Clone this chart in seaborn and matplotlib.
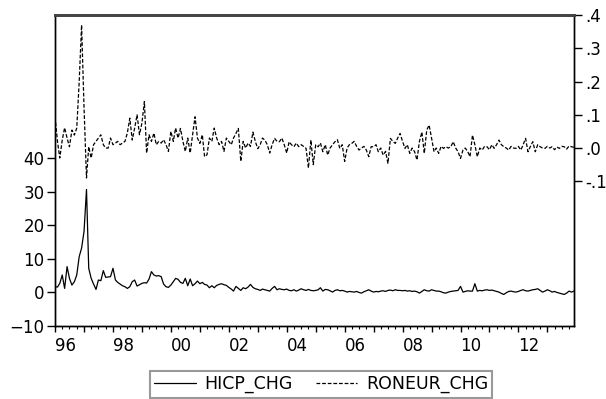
import numpy as np
import pandas as pd
import matplotlib
matplotlib.use("Agg")
import matplotlib.pyplot as plt
import matplotlib.dates as mdates
from matplotlib.ticker import FuncFormatter
import seaborn as sns

# monthly series 1996m01 - 2013m12
dates = pd.date_range("1996-01-01", "2013-12-01", freq="MS")

hicp_chg = [
    1.7, 1.6, 2.7, 5.2, 1.2, 7.7, 4.2, 2.2, 3.2, 5.2, 10.7, 13.2,
    18.2, 30.7, 7.2, 4.2, 2.5, 0.9, 3.7, 3.5, 6.5, 4.5, 4.6, 4.7,
    7.2, 3.7, 3.0, 2.5, 2.0, 1.7, 1.2, 1.7, 3.2, 3.7, 1.9, 2.3,
    2.7, 2.9, 2.8, 4.0, 6.2, 5.2, 4.9, 5.0, 4.7, 2.5, 1.7, 1.5,
    2.2, 3.2, 4.2, 3.9, 3.0, 2.7, 4.2, 2.0, 4.0, 2.0, 2.6, 3.4,
    2.6, 3.0, 2.4, 2.2, 1.4, 2.0, 1.4, 2.1, 2.4, 2.6, 2.3, 2.1,
    1.5, 1.0, 0.4, 1.8, 1.2, 0.6, 1.4, 1.1, 1.6, 2.4, 1.5, 1.1,
    0.9, 0.6, 1.0, 0.8, 0.6, 0.4, 1.2, 1.8, 0.8, 1.1, 0.9, 0.8,
    1.0, 0.6, 0.5, 0.8, 0.4, 0.7, 1.1, 0.8, 0.6, 0.9, 0.6, 0.5,
    0.6, 0.8, 1.4, 0.4, 0.9, 0.8, 0.5, 0.1, 0.6, 0.8, 0.5, 0.6,
    0.4, 0.1, 0.3, 0.2, 0.1, 0.3, 0.0, -0.2, 0.2, 0.5, 0.8, 0.4,
    0.1, 0.3, 0.2, 0.4, 0.5, 0.3, 0.6, 0.7, 0.5, 0.8, 0.6, 0.6,
    0.5, 0.6, 0.4, 0.5, 0.3, 0.4, 0.2, -0.2, 0.3, 0.8, 0.5, 0.4,
    0.8, 0.6, 0.4, 0.4, 0.2, -0.1, -0.2, 0.1, 0.3, 0.4, 0.5, 0.6,
    1.8, 0.1, 0.3, 0.5, 0.4, 0.4, 2.6, 0.4, 0.6, 0.5, 0.7, 0.8,
    0.6, 0.7, 0.5, 0.3, 0.1, -0.3, -0.6, -0.1, 0.3, 0.4, 0.2, 0.1,
    0.3, 0.6, 0.8, 0.5, 0.4, 0.6, 0.8, 0.9, 1.1, 0.6, 0.1, 0.4,
    0.8, 0.5, 0.1, 0.3, 0.0, -0.2, -0.4, -0.6, -0.2, 0.4, 0.1, 0.4,
]

roneur_chg = [
    0.094, 0.02, -0.03, 0.024, 0.061, 0.03, 0.004, 0.054, 0.039, 0.06, 0.20, 0.37,
    0.12, -0.09, 0.004, -0.03, 0.01, 0.02, 0.03, 0.04, 0.01, 0.0, 0.0, 0.03,
    0.01, 0.015, 0.02, 0.01, 0.015, 0.02, 0.045, 0.09, 0.024, 0.06, 0.10, 0.04,
    0.075, 0.14, -0.015, 0.04, 0.02, 0.045, 0.01, 0.02, 0.015, 0.025, 0.01, -0.01,
    0.05, 0.02, 0.06, 0.03, 0.059, 0.02, -0.01, 0.03, -0.015, 0.04, 0.094, 0.03,
    0.014, 0.04, -0.026, -0.02, 0.03, 0.02, 0.06, 0.03, 0.01, 0.02, -0.01, 0.03,
    0.02, 0.01, 0.03, 0.044, 0.059, -0.04, 0.02, 0.0, 0.015, 0.005, 0.048, 0.02,
    -0.002, 0.01, 0.03, 0.024, 0.01, -0.015, 0.01, 0.029, 0.02, 0.019, 0.03, 0.01,
    -0.015, 0.019, 0.01, 0.004, 0.015, 0.004, 0.01, 0.005, -0.001, -0.06, 0.024, -0.05,
    0.01, 0.004, 0.015, -0.011, 0.01, -0.021, 0.0, 0.01, 0.019, 0.025, -0.001, 0.01,
    -0.04, 0.0, 0.01, 0.014, 0.02, 0.005, -0.006, 0.0, 0.005, -0.006, -0.026, 0.004,
    0.004, 0.01, -0.011, 0.0, -0.021, -0.01, -0.046, 0.029, 0.02, 0.014, 0.03, 0.044,
    0.02, -0.001, 0.01, -0.016, 0.0, -0.011, -0.036, 0.02, 0.048, -0.016, 0.054, 0.069,
    0.03, -0.011, 0.0, -0.016, 0.005, -0.001, 0.004, 0.0, 0.004, 0.019, 0.0, -0.011,
    -0.031, -0.006, 0.0, -0.01, -0.026, 0.039, 0.01, -0.026, 0.0, -0.006, 0.005, 0.004,
    -0.005, 0.01, -0.001, 0.01, 0.024, 0.01, 0.004, 0.0, -0.006, 0.005, 0.0, -0.001,
    0.005, -0.006, 0.01, 0.029, -0.011, 0.005, 0.019, -0.011, 0.01, 0.004, 0.0, -0.001,
    0.005, 0.0, 0.004, -0.005, 0.003, -0.001, 0.005, 0.004, -0.003, 0.006, 0.004, 0.002,
]

left_ticks = [-10, 0, 10, 20, 30, 40]
right_ticks = [-0.1, 0.0, 0.1, 0.2, 0.3, 0.4]

df = pd.DataFrame({"date": dates, "HICP_CHG": hicp_chg, "RONEUR_CHG": roneur_chg})

sns.set_style("white")
plt.rcParams["font.family"] = ["DejaVu Sans"]
plt.rcParams["text.color"] = "black"
plt.rcParams["xtick.color"] = "black"
plt.rcParams["ytick.color"] = "black"
plt.rcParams["xtick.labelcolor"] = "black"
plt.rcParams["ytick.labelcolor"] = "black"

fig = plt.figure(figsize=(6.06, 3.99), dpi=100)
ax = fig.add_axes([0.0908, 0.183, 0.8562, 0.7794])
ax2 = ax.twinx()

sns.lineplot(data=df, x="date", y="HICP_CHG", ax=ax, color="black", linewidth=0.9,
             label="HICP_CHG", legend=False)
sns.lineplot(data=df, x="date", y="RONEUR_CHG", ax=ax2, color="black", linewidth=0.9,
             label="RONEUR_CHG", legend=False)
ax2.lines[0].set_dashes([3.0, 1.5])

ax.set_xlim(dates[0], dates[-1])
ax.set_ylim(-10, 82.7)
ax2.set_ylim(-0.535, 0.4)
ax.set_yticks(left_ticks)
ax2.set_yticks(right_ticks)
ax2.yaxis.set_major_formatter(FuncFormatter(lambda v, p: f"{v:.1f}".replace("0.", ".")))

ax.xaxis.set_major_locator(mdates.YearLocator(1))
ax.xaxis.set_minor_locator(mdates.MonthLocator(bymonth=[1, 4, 7, 10]))
ax.xaxis.set_major_formatter(FuncFormatter(
    lambda v, p: mdates.num2date(v).strftime("%y") if mdates.num2date(v).year % 2 == 0 else ""))
for lab in ax.get_xticklabels():
    lab.set_horizontalalignment("left")

for a in (ax, ax2):
    a.set_xlabel("")
    a.set_ylabel("")
    for s in a.spines.values():
        s.set_color("black")
        s.set_linewidth(1.0)
    a.spines["top"].set_color("#444444")
    a.spines["top"].set_linewidth(2.0)

ax.tick_params(axis="y", direction="out", length=5.5, width=1, color="black", pad=2,
               left=True, labelsize=12, labelcolor="black")
ax2.tick_params(axis="y", direction="out", length=5.5, width=1, color="black", pad=3,
                right=True, labelsize=12, labelcolor="black")
ax.tick_params(axis="x", which="major", direction="out", length=4, width=1, color="black",
               bottom=True, pad=4, labelsize=12, labelcolor="black")
ax.tick_params(axis="x", which="minor", direction="out", length=2.5, width=0.8,
               color="black", bottom=True)

h1, l1 = ax.get_legend_handles_labels()
h2, l2 = ax2.get_legend_handles_labels()
leg = fig.legend(h1 + h2, l1 + l2, loc="center", bbox_to_anchor=(0.53, 0.037), ncol=2,
                 frameon=True, fancybox=False, edgecolor="#808080", handlelength=2.4,
                 columnspacing=1.3, handletextpad=0.5, borderpad=0.25, fontsize=12.5)
leg.get_frame().set_linewidth(1.5)
for t in leg.get_texts():
    t.set_color("black")

fig.savefig("out.png", dpi=100)
